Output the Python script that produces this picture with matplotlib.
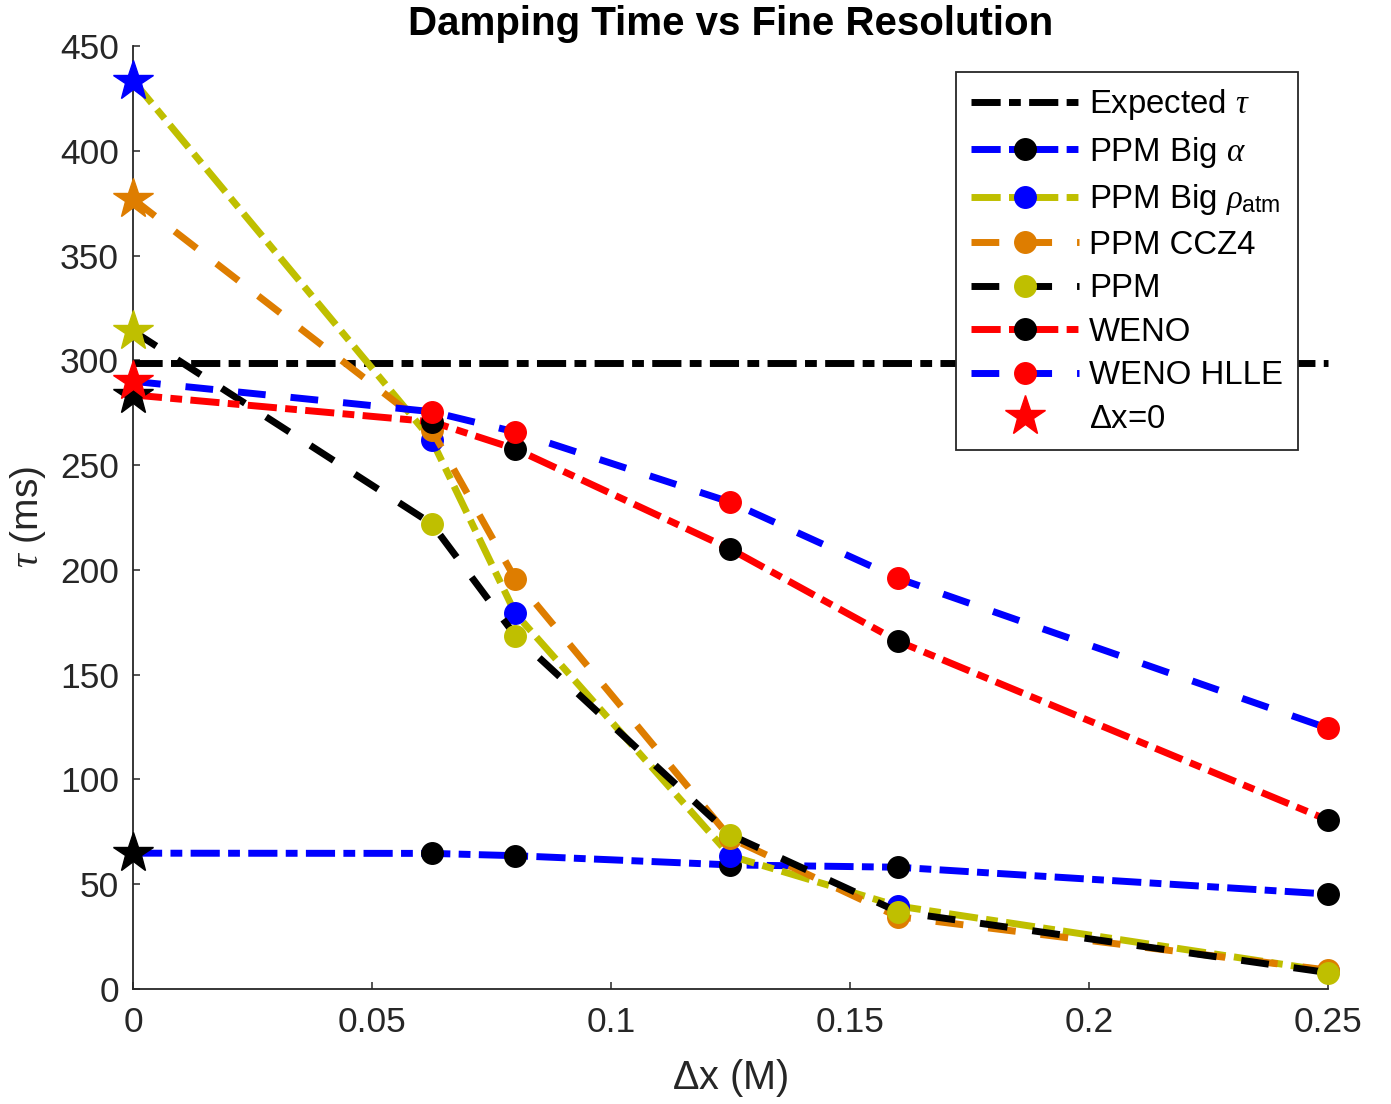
import numpy as np
import matplotlib
matplotlib.use("Agg")
import matplotlib.pyplot as plt

plt.rcParams['font.family'] = ['Liberation Sans', 'DejaVu Sans']
plt.rcParams['mathtext.fontset'] = 'custom'
plt.rcParams['mathtext.rm'] = 'Liberation Sans'
plt.rcParams['mathtext.it'] = 'Liberation Serif:italic'

# grid spacings (M) and damping times (ms); tau0 is the extrapolated Delta x = 0 value
dx = [0.0625, 0.08, 0.125, 0.16, 0.25]
expected_tau = 298.5

names = ['PPM Big $\\alpha$', 'PPM Big $\\rho_{\\mathrm{atm}}$', 'PPM CCZ4', 'PPM', 'WENO', 'WENO HLLE']
tau0 = [64.8, 433.5, 377.0, 314.0, 283.5, 290.0]
tau_big_alpha = [64.7, 63.6, 59.2, 58.1, 45.3]
tau_big_rho = [262.0, 179.2, 63.5, 39.6, 8.5]
tau_ccz4 = [266.7, 195.6, 72.0, 34.5, 9.0]
tau_ppm = [222.0, 168.6, 73.5, 36.9, 7.8]
tau_weno = [270.7, 257.7, 209.9, 166.0, 80.6]
tau_hlle = [275.5, 265.8, 232.3, 196.0, 124.4]
series = [tau_big_alpha, tau_big_rho, tau_ccz4, tau_ppm, tau_weno, tau_hlle]

blue, yellow, orange, red = '#0000FF', '#BFBF00', '#DE7D00', '#FF0000'
line_colors = [blue, yellow, orange, 'black', red, blue]
marker_colors = ['black', blue, orange, yellow, 'black', red]
dashdot = (4.2, 1.2, 1.7, 1.2)
dashed = (4.0, 3.6)
line_dashes = [dashdot, dashdot, dashed, dashed, dashdot, dashed]

fig = plt.figure(figsize=(13.91, 11.04), dpi=100)
ax = fig.add_axes([0.0956, 0.1042, 0.8591, 0.8541])

lw = 5
ax.plot([0, 0.25], [expected_tau, expected_tau], color='black', lw=lw,
        linestyle='-.', dashes=dashdot, label='Expected $\\tau$', clip_on=False)

x_all = np.r_[0.0, dx]
for name, vals, t0, lc, mc, ds in zip(names, series, tau0, line_colors, marker_colors, line_dashes):
    ax.plot(x_all, np.r_[t0, vals], color=lc, lw=lw, linestyle='--', dashes=ds,
            marker='o', ms=15.5, mfc=mc, mec=mc, markevery=list(range(1, len(x_all))),
            label=name, clip_on=False)

# extrapolated values, one star per run
for i, (t0, mc) in enumerate(zip(tau0, marker_colors)):
    ax.plot([0], [t0], linestyle='none', marker='*', ms=30, mfc=mc, mec=mc,
            label='$\\Delta$x=0' if i == len(tau0) - 1 else None, clip_on=False, zorder=3)

ax.set_xlim(0, 0.25)
ax.set_ylim(0, 450)
ax.set_xticks([0, 0.05, 0.1, 0.15, 0.2, 0.25])
ax.set_xticklabels(['0', '0.05', '0.1', '0.15', '0.2', '0.25'])
ax.set_yticks(np.arange(0, 451, 50))

gray = '#262626'
for side in ['top', 'right']:
    ax.spines[side].set_visible(False)
for side in ['left', 'bottom']:
    ax.spines[side].set_color(gray)
    ax.spines[side].set_linewidth(1.3)
ax.tick_params(direction='in', length=5, width=1.1, color=gray, labelcolor=gray,
               labelsize=25.5)
ax.tick_params(axis='x', pad=12)
ax.tick_params(axis='y', pad=10)

ax.set_xlabel('$\\Delta$x (M)', fontsize=28.5, color=gray, labelpad=13)
ax.set_ylabel('$\\tau$ (ms)', fontsize=28, color=gray, labelpad=9)
ax.set_title('Damping Time vs Fine Resolution', fontsize=29, fontweight='bold', pad=8)

leg = ax.legend(loc='upper right', bbox_to_anchor=(0.975, 0.972), borderaxespad=0,
                fontsize=23.7, fancybox=False, framealpha=1, handlelength=3.3,
                handletextpad=0.3, labelspacing=0.38, borderpad=0.45)
leg.get_frame().set_edgecolor(gray)
leg.get_frame().set_linewidth(1.3)

fig.savefig('out.png', dpi=100)
